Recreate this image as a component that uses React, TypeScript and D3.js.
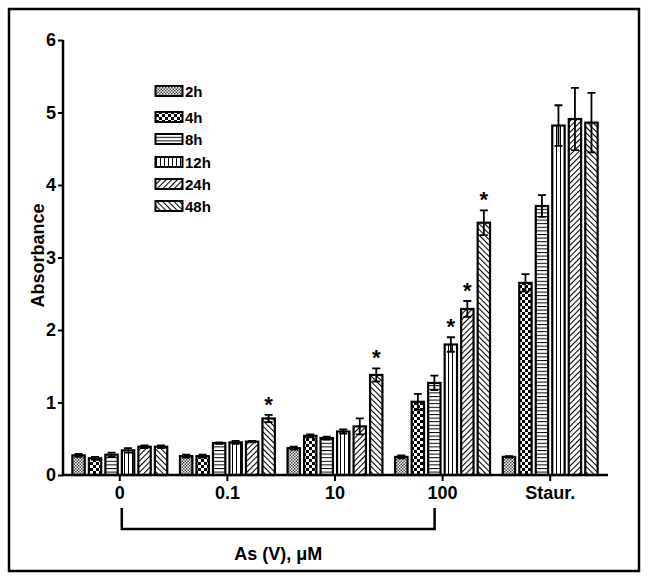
import React, { useRef, useEffect } from 'react';
import * as d3 from 'd3';

const groups = ['0', '0.1', '10', '100', 'Staur.'];
const series = ['2h', '4h', '8h', '12h', '24h', '48h'];
// values[group][series]
const means = [
  [0.27, 0.23, 0.28, 0.34, 0.39, 0.39],
  [0.26, 0.26, 0.44, 0.45, 0.46, 0.78],
  [0.37, 0.54, 0.51, 0.60, 0.67, 1.38],
  [0.25, 1.01, 1.27, 1.80, 2.29, 3.48],
  [0.25, 2.65, 3.71, 4.82, 4.91, 4.86],
];
const errors = [
  [0.02, 0.02, 0.03, 0.03, 0.02, 0.02],
  [0.02, 0.02, 0.01, 0.02, 0.01, 0.05],
  [0.02, 0.02, 0.02, 0.03, 0.11, 0.09],
  [0.02, 0.11, 0.10, 0.10, 0.11, 0.17],
  [0.01, 0.12, 0.15, 0.28, 0.43, 0.41],
];
const stars = [
  [1, 5],
  [2, 5],
  [3, 3],
  [3, 4],
  [3, 5],
];
const yTicks = [0, 1, 2, 3, 4, 5, 6];

const App = () => {
  const ref = useRef<SVGSVGElement>(null);

  useEffect(() => {
    const svg = d3.select(ref.current);
    svg.selectAll('*').remove();
    const font = '"Liberation Sans", Arial, sans-serif';

    // patterns
    const defs = svg.append('defs');
    const mk = (id: string, w: number, h: number) =>
      defs.append('pattern').attr('id', id).attr('patternUnits', 'userSpaceOnUse')
        .attr('width', w).attr('height', h);
    let p = mk('p0', 3, 3);
    p.append('rect').attr('width', 3).attr('height', 3).attr('fill', '#fff');
    p.append('rect').attr('width', 1.5).attr('height', 1.5).attr('fill', '#444');
    p.append('rect').attr('x', 1.5).attr('y', 1.5).attr('width', 1.5).attr('height', 1.5).attr('fill', '#444');
    p = mk('p1', 6, 6);
    p.append('rect').attr('width', 6).attr('height', 6).attr('fill', '#fff');
    p.append('rect').attr('width', 3).attr('height', 3).attr('fill', '#000');
    p.append('rect').attr('x', 3).attr('y', 3).attr('width', 3).attr('height', 3).attr('fill', '#000');
    p = mk('p2', 4, 3.6);
    p.append('rect').attr('width', 4).attr('height', 3.6).attr('fill', '#fff');
    p.append('line').attr('x1', 0).attr('x2', 4).attr('y1', 0.5).attr('y2', 0.5).attr('stroke', '#000').attr('stroke-width', 1);
    p = mk('p3', 4, 4);
    p.append('rect').attr('width', 4).attr('height', 4).attr('fill', '#fff');
    p.append('line').attr('x1', 0.5).attr('x2', 0.5).attr('y1', 0).attr('y2', 4).attr('stroke', '#000').attr('stroke-width', 1);
    p = mk('p4', 4, 4).attr('patternTransform', 'rotate(45)');
    p.append('rect').attr('width', 4).attr('height', 4).attr('fill', '#fff');
    p.append('line').attr('x1', 0.5).attr('x2', 0.5).attr('y1', 0).attr('y2', 4).attr('stroke', '#000').attr('stroke-width', 1.1);
    p = mk('p5', 4, 4).attr('patternTransform', 'rotate(-45)');
    p.append('rect').attr('width', 4).attr('height', 4).attr('fill', '#fff');
    p.append('line').attr('x1', 0.5).attr('x2', 0.5).attr('y1', 0).attr('y2', 4).attr('stroke', '#000').attr('stroke-width', 1.1);

    // frame
    svg.append('rect').attr('x', 9).attr('y', 9).attr('width', 630).attr('height', 562)
      .attr('fill', 'none').attr('stroke', '#000').attr('stroke-width', 2.5);

    const x0 = d3.scaleBand().domain(groups).range([66, 604]);
    const x1 = d3.scaleBand().domain(series).range([-49.5, 49.5]).paddingInner(0.25).paddingOuter(0.125);
    const y = d3.scaleLinear().domain([0, 6]).range([475, 40]);

    // bars
    const g = svg.append('g');
    groups.forEach((grp, gi) => {
      series.forEach((s, si) => {
        const cx = x0(grp)! + x0.bandwidth() / 2 + x1(s)!;
        const v = means[gi][si];
        const e = errors[gi][si];
        g.append('rect').attr('x', cx).attr('y', y(v)).attr('width', x1.bandwidth())
          .attr('height', y(0) - y(v)).attr('fill', `url(#p${si})`)
          .attr('stroke', '#000').attr('stroke-width', 2.2);
        const mx = cx + x1.bandwidth() / 2;
        g.append('path')
          .attr('d', `M${mx},${y(v - e)}V${y(v + e)}M${mx - 4},${y(v + e)}H${mx + 4}M${mx - 4},${y(v - e)}H${mx + 4}`)
          .attr('stroke', '#000').attr('stroke-width', 1.8).attr('fill', 'none');
      });
    });

    // stars
    stars.forEach(([gi, si]) => {
      const mx = x0(groups[gi])! + x0.bandwidth() / 2 + x1(series[si])! + x1.bandwidth() / 2;
      svg.append('text').attr('x', mx).attr('y', y(means[gi][si] + errors[gi][si]) - 3)
        .attr('text-anchor', 'middle').attr('font-family', font).attr('font-weight', 'bold')
        .attr('font-size', 22).text('*');
    });

    // axes
    const yAxis = svg.append('g').attr('transform', 'translate(63,0)')
      .call(d3.axisLeft(y).tickValues(yTicks).tickSize(5).tickPadding(2).tickFormat(d3.format('d')));
    yAxis.select('.domain').attr('stroke-width', 2.5).attr('d', `M0,${y(6)}V${y(0)}`);
    yAxis.selectAll('line').attr('stroke-width', 2);
    yAxis.selectAll('text').attr('font-family', font).attr('font-weight', 'bold').attr('font-size', 18).attr('fill', '#000');

    const xAxis = svg.append('g').attr('transform', `translate(0,${y(0)})`)
      .call(d3.axisBottom(x0).tickSize(6).tickPadding(5));
    xAxis.select('.domain').attr('stroke-width', 2.5).attr('d', 'M62,0H608');
    xAxis.selectAll('line').attr('stroke-width', 2);
    xAxis.selectAll('text').attr('font-family', font).attr('font-weight', 'bold').attr('font-size', 18).attr('fill', '#000');

    // bracket
    const bx1 = x0('0')! + x0.bandwidth() / 2 + 2;
    const bx2 = x0('100')! + x0.bandwidth() / 2 - 8;
    svg.append('path').attr('d', `M${bx1},508V529H${bx2}V508`).attr('fill', 'none')
      .attr('stroke', '#000').attr('stroke-width', 2.5);
    svg.append('text').attr('x', (bx1 + bx2) / 2).attr('y', 560).attr('text-anchor', 'middle')
      .attr('font-family', font).attr('font-weight', 'bold').attr('font-size', 18).text('As (V), \u03bcM');

    svg.append('text').attr('transform', `translate(44,${y(3) - 2}) rotate(-90)`).attr('text-anchor', 'middle')
      .attr('font-family', font).attr('font-weight', 'bold').attr('font-size', 18).text('Absorbance');

    // legend
    const ly = [91, 117, 139, 162, 184, 206];
    series.forEach((s, si) => {
      svg.append('rect').attr('x', 155.5).attr('y', ly[si] - 5).attr('width', 27).attr('height', 10)
        .attr('fill', `url(#p${si})`).attr('stroke', '#000').attr('stroke-width', 2);
      svg.append('text').attr('x', 185).attr('y', ly[si] + 5.5).attr('font-family', font)
        .attr('font-weight', 'bold').attr('font-size', 15).text(s);
    });
  }, []);

  return (
    <svg ref={ref} width={649} height={580}
      style={{ position: 'absolute', left: 0, top: 0, background: '#fff' }} />
  );
};

export default App;
